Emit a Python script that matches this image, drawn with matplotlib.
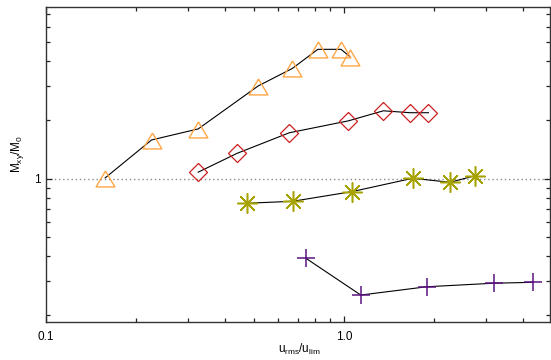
import matplotlib
matplotlib.use("Agg")
import matplotlib.pyplot as plt
from matplotlib.ticker import FixedLocator, FixedFormatter, NullFormatter

plt.rcParams['font.family'] = ['Liberation Sans', 'DejaVu Sans']
plt.rcParams['mathtext.default'] = 'regular'

# ---- data ----
tri_x = [0.158, 0.226, 0.324, 0.515, 0.671, 0.817, 0.977, 1.048]
tri_y = [1.01, 1.58, 1.80, 2.99, 3.68, 4.61, 4.61, 4.22]

dia_x = [0.324, 0.438, 0.655, 1.034, 1.355, 1.666, 1.92]
dia_y = [1.08, 1.35, 1.72, 1.98, 2.23, 2.18, 2.18]

ast_x = [0.472, 0.673, 1.062, 1.70, 2.27, 2.75]
ast_y = [0.748, 0.766, 0.858, 1.005, 0.958, 1.036]

crs_x = [0.744, 1.138, 1.894, 3.19, 4.32]
crs_y = [0.391, 0.253, 0.279, 0.291, 0.294]

x_major = [0.1, 1.0]
x_major_labels = ['0.1', '1.0']
x_minor = [0.2, 0.3, 0.4, 0.5, 0.6, 0.7, 0.8, 0.9, 2, 3, 4]
y_major = [1]
y_major_labels = ['1']
y_minor = [0.2, 0.3, 0.4, 0.5, 0.6, 0.7, 0.8, 0.9, 2, 3, 4, 5, 6, 7]

xlabel = r'u$_{rms}$/u$_{lim}$'
ylabel = r'M$_{xy}$/M$_0$'

fig = plt.figure(figsize=(5.51, 3.60), dpi=100)
ax = fig.add_axes([46/551, 38/360, 504/551, 315/360])
ax.set_xscale('log')
ax.set_yscale('log')

ax.axhline(1.0, color='#888888', lw=1.0, ls=(0, (1, 2)), zorder=1)

tri_marker = [(0, 0.80), (-1, -0.90), (1, -0.90), (0, 0.80)]
dia_marker = [(0, 1), (1, 0), (0, -1), (-1, 0), (0, 1)]

ax.plot(tri_x, tri_y, color='black', lw=0.8, zorder=2)
ax.plot(tri_x, tri_y, ls='none', marker=tri_marker, ms=13.5, mfc='none',
        mec='#FFA646', mew=1.0, zorder=3)

ax.plot(dia_x, dia_y, color='black', lw=0.8, zorder=2)
ax.plot(dia_x, dia_y, ls='none', marker=dia_marker, ms=13.0, mfc='none',
        mec='#CC2222', mew=0.9, zorder=3)

ax.plot(ast_x, ast_y, color='black', lw=0.8, zorder=2)
ax.plot(ast_x, ast_y, ls='none', marker=(8, 2, 0), ms=14.5, mfc='none',
        mec='#A8A200', mew=1.1, zorder=3)

ax.plot(crs_x, crs_y, color='black', lw=0.8, zorder=2)
ax.plot(crs_x, crs_y, ls='none', marker='+', ms=13.5,
        mec='#5A1580', mew=1.1, zorder=3)

ax.set_xlim(0.1, 4.91)
ax.set_ylim(0.184, 7.60)

ax.xaxis.set_major_locator(FixedLocator(x_major))
ax.xaxis.set_major_formatter(FixedFormatter(x_major_labels))
ax.xaxis.set_minor_locator(FixedLocator(x_minor))
ax.xaxis.set_minor_formatter(NullFormatter())
ax.yaxis.set_major_locator(FixedLocator(y_major))
ax.yaxis.set_major_formatter(FixedFormatter(y_major_labels))
ax.yaxis.set_minor_locator(FixedLocator(y_minor))
ax.yaxis.set_minor_formatter(NullFormatter())

ax.tick_params(which='both', direction='in', top=True, right=True,
               width=0.9, color='#222222', labelsize=8.5)
ax.tick_params(which='major', length=4.5)
ax.tick_params(which='minor', length=3.0)
ax.tick_params(axis='x', pad=6.5)
ax.tick_params(axis='y', pad=4)

for s in ax.spines.values():
    s.set_linewidth(1.0)
    s.set_color('#333333')

fig.text(299/551, 1 - 349/360, xlabel, ha='center', va='center', fontsize=8.5)
fig.text(18/551, 1 - 154/360, ylabel, ha='center', va='center', fontsize=8.5,
         rotation=90)

fig.savefig('out.png', dpi=100)
